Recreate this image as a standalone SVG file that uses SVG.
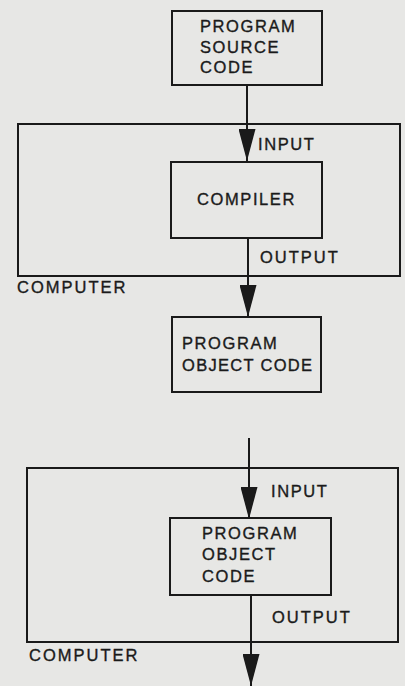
<svg xmlns="http://www.w3.org/2000/svg" width="405" height="686" viewBox="0 0 405 686">
<defs>
<style>
.bg{fill:#e7e7e5}
.box{fill:none;stroke:#1a1a1a;stroke-width:2}
.frame{fill:none;stroke:#1a1a1a;stroke-width:2}
.t{font-family:"Liberation Sans",Arial,Helvetica,sans-serif;font-size:16.5px;fill:#1a1a1a;stroke:#1a1a1a;stroke-width:0.35px;letter-spacing:1.6px}
.lbl{letter-spacing:2px}
.conn{stroke:#1a1a1a;stroke-width:2;fill:none;marker-end:url(#ah)}
</style>
<marker id="ah" markerUnits="userSpaceOnUse" markerWidth="32" markerHeight="17" refX="32" refY="8.5" orient="auto" viewBox="0 0 32 17">
<path d="M0,0 L32,8.5 L0,17 Z" fill="#1a1a1a"/>
</marker>
</defs>
<rect class="bg" x="0" y="0" width="405" height="686"/>

<g id="computer1">
<rect class="frame" x="18" y="124" width="382" height="152"/>
<text class="t lbl" x="17" y="293">COMPUTER</text>
</g>
<g id="computer2">
<rect class="frame" x="27" y="468" width="371" height="174"/>
<text class="t lbl" x="29" y="661">COMPUTER</text>
</g>

<g id="source">
<rect class="box" x="172" y="11" width="150" height="74"/>
<text class="t" x="200" y="32">PROGRAM</text>
<text class="t" x="200" y="53">SOURCE</text>
<text class="t" x="200" y="73">CODE</text>
</g>

<g id="compiler">
<rect class="box" x="171" y="162" width="151" height="76"/>
<text class="t" x="197" y="205">COMPILER</text>
</g>

<g id="object1">
<rect class="box" x="172" y="317" width="149" height="75"/>
<text class="t" x="182" y="349">PROGRAM</text>
<text class="t" x="182" y="371" style="letter-spacing:1.3px">OBJECT CODE</text>
</g>

<g id="object2">
<rect class="box" x="170" y="518" width="161" height="77"/>
<text class="t" x="202" y="539">PROGRAM</text>
<text class="t" x="202" y="560">OBJECT</text>
<text class="t" x="202" y="582">CODE</text>
</g>

<g id="connectors">
<line class="conn" x1="247" y1="85" x2="247" y2="161"/>
<text class="t" x="258" y="150">INPUT</text>
<line class="conn" x1="248" y1="238" x2="248" y2="317"/>
<text class="t lbl" x="260" y="263">OUTPUT</text>
<line class="conn" x1="249" y1="438" x2="249" y2="519"/>
<text class="t" x="271" y="497">INPUT</text>
<line class="conn" x1="251" y1="595" x2="251" y2="686"/>
<text class="t lbl" x="272" y="623">OUTPUT</text>
</g>
</svg>
